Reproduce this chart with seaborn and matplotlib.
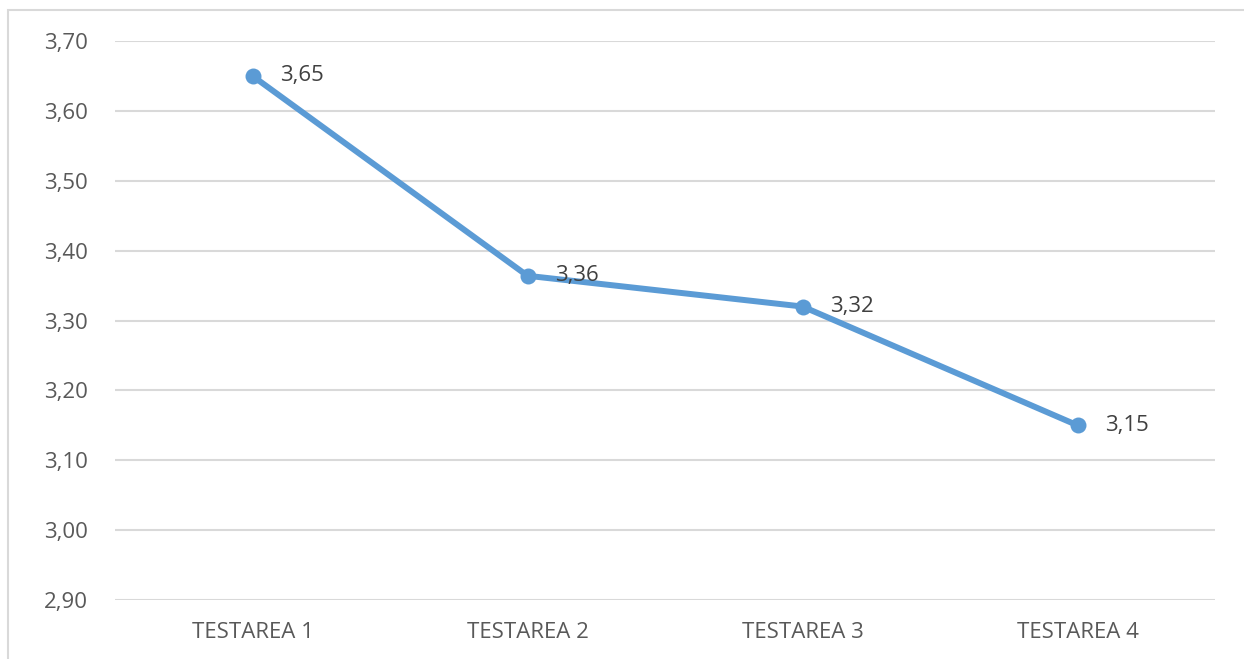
import matplotlib
matplotlib.use('Agg')

import pandas as pd
import matplotlib.pyplot as plt
import seaborn as sns
from matplotlib.patches import Rectangle

# data
categories = ['TESTAREA 1', 'TESTAREA 2', 'TESTAREA 3', 'TESTAREA 4']
scores = [3.65, 3.364, 3.32, 3.15]
yticks = [2.90, 3.00, 3.10, 3.20, 3.30, 3.40, 3.50, 3.60, 3.70]

df = pd.DataFrame({'test': categories, 'score': scores})

sns.set_theme(style='white')
plt.rcParams['font.family'] = ['Open Sans', 'DejaVu Sans']

fig = plt.figure(figsize=(12.44, 6.59), dpi=100)
ax = fig.add_axes([115 / 1244, 1 - 600 / 659, 1100 / 1244, 559 / 659])

# outer chart border (light grey)
fig.patches.append(Rectangle((8 / 1244, -0.05), 1.1, 1 - 10 / 659 + 0.05,
                             transform=fig.transFigure, fill=False,
                             edgecolor='#D9D9D9', linewidth=1.5))

x = list(range(len(categories)))
sns.lineplot(x=x, y=df['score'], ax=ax, color='#5B9BD5', linewidth=4.3,
             marker='o', markersize=11.5, markeredgewidth=0)

for xi, v in zip(x, scores):
    ax.annotate(('%.2f' % v).replace('.', ','), (xi, v), xytext=(20, 0),
                textcoords='offset points', ha='left', va='center',
                fontsize=16, color='#404040')

ax.set_xlim(-0.5, 3.5)
ax.set_ylim(2.90, 3.70)
ax.set_yticks(yticks)
ax.set_yticklabels([('%.2f' % t).replace('.', ',') for t in yticks])
ax.set_xticks(x)
ax.set_xticklabels(categories)
ax.grid(axis='y', color='#D9D9D9', linewidth=1.5)
ax.set_axisbelow(True)
for s in ax.spines.values():
    s.set_visible(False)
ax.tick_params(axis='both', length=0, labelsize=16, labelcolor='#595959')
ax.tick_params(axis='y', pad=19.5)
ax.tick_params(axis='x', pad=16)
ax.set_xlabel('')
ax.set_ylabel('')

fig.savefig('out.png', dpi=100)
